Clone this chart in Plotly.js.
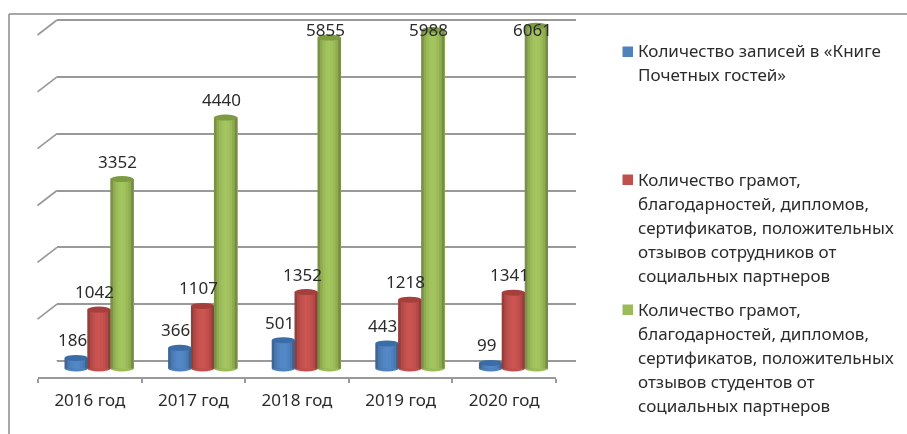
<!DOCTYPE html>
<html><head><meta charset="utf-8">
<script src="https://cdn.plot.ly/plotly-3.0.1.min.js"></script>
<style>html,body{margin:0;padding:0;background:#fff}#chart{filter:blur(0.35px)}</style>
</head><body><div id="chart" style="width:907px;height:434px"></div>
<script>
const categories = ['2016 год','2017 год','2018 год','2019 год','2020 год'];
const guests = [186,366,501,443,99];
const partnersStaff = [1042,1107,1352,1218,1341];
const partnersStudents = [3352,4440,5855,5988,6061];
const seriesNames = [
 'Количество записей в «Книге Почетных гостей»',
 'Количество грамот, благодарностей, дипломов, сертификатов, положительных отзывов сотрудников от социальных партнеров',
 'Количество грамот, благодарностей, дипломов, сертификатов, положительных отзывов студентов от социальных партнеров'];
const legendLines = [
 ['Количество записей в «Книге','Почетных гостей»'],
 ['Количество грамот,','благодарностей, дипломов,','сертификатов, положительных','отзывов сотрудников от','социальных партнеров'],
 ['Количество грамот,','благодарностей, дипломов,','сертификатов, положительных','отзывов студентов от','социальных партнеров']];
const baseColors = [[79,129,189],[192,80,77],[155,187,89]];
const capColors = ['#3a6ca8','#a53f3c','#7d9b41'];
const legendColors = ['#4f81bd','#c0504d','#9bbb59'];
const legendFirstY = [51,179,309];
const shades = [0.78,0.92,1.0,1.04,1.06,1.04,1.0,0.92,0.76];

const W=907,H=434, px=x=>x/W, py=y=>1-y/H;
const FONT='"Noto Sans", sans-serif', INK='#2b2b2b', LINE='#999999';
const all=[guests,partnersStaff,partnersStudents];
const unitsPerPx=1/0.05653, pxPerCat=103.6;
const leftOff=[-25.3/pxPerCat,-2.5/pxPerCat,20.5/pxPerCat], barW=23.3/pxPerCat;
const ry=3*unitsPerPx;
const y2Top=15,y2Bot=377,zero=368.5;
const traces=[{type:'scatter',mode:'none',x:[0],y:[0],xaxis:'x',yaxis:'y',showlegend:false,hoverinfo:'skip'}];
const shapes=[],annotations=[];
all.forEach((vals,s)=>{
  const dw=barW/shades.length;
  shades.forEach((f,k)=>{
    const c=baseColors[s].map(v=>Math.min(255,Math.round(v*f)));
    traces.push({type:'bar',name:seriesNames[s],x:categories,y:vals,xaxis:'x2',yaxis:'y2',
      offset:leftOff[s]+k*dw,width:barW-k*dw,marker:{color:`rgb(${c})`,line:{width:0}},hoverinfo:'skip',showlegend:false});
  });
  vals.forEach((v,i)=>{
    const x0=i+leftOff[s],x1=x0+barW;
    shapes.push({type:'circle',xref:'x2',yref:'y2',x0,x1,y0:-ry,y1:ry,layer:'between',line:{width:0},fillcolor:legendColors[s]});
    shapes.push({type:'circle',xref:'x2',yref:'y2',x0,x1,y0:v-ry,y1:v+ry,layer:'above',line:{width:0},fillcolor:capColors[s]});
    annotations.push({xref:'x2',yref:'y2',x:(x0+x1)/2,y:Math.min(v,5670),yshift:18,xshift:-4,text:String(v),showarrow:false,
      xanchor:'center',yanchor:'middle',font:{family:FONT,size:17,color:INK}});
  });
  legendLines[s].forEach((t,l)=>{
    annotations.push({xref:'paper',yref:'paper',x:px(636),y:py(legendFirstY[s]+l*24),text:t,showarrow:false,xanchor:'left',yanchor:'middle',
      font:{family:FONT,size:17,color:INK}});
  });
  const ly=legendFirstY[s]+1;
  shapes.push({type:'rect',xref:'paper',yref:'paper',x0:px(622.5),x1:px(633),y0:py(ly-5.5),y1:py(ly+5),line:{width:0},fillcolor:legendColors[s]});
});
// slanted wall/floor edges
const wallSlope=15/(341/6000);
[0,1000,2000,3000,4000,5000,6000].forEach(v=>{
  shapes.push({type:'line',xref:'paper',yref:'y',x0:px(37.5),x1:px(57),y0:v-wallSlope,y1:v,layer:'below',line:{color:LINE,width:1.7}});
});
shapes.push({type:'line',xref:'paper',yref:'y',x0:px(556),x1:px(576),y0:-wallSlope,y1:0,layer:'below',line:{color:LINE,width:1.7}});
// outer frame
shapes.push({type:'line',xref:'paper',yref:'paper',x0:px(9),x1:1,y0:py(14),y1:py(14),line:{color:'#8a8a8a',width:1.5}});
shapes.push({type:'line',xref:'paper',yref:'paper',x0:px(9),x1:px(9),y0:py(14),y1:0,line:{color:'#8a8a8a',width:1.5}});

const layout={width:W,height:H,margin:{l:0,r:0,t:0,b:0},paper_bgcolor:'#fff',plot_bgcolor:'rgba(0,0,0,0)',
  barmode:'overlay',showlegend:false,shapes,annotations,hovermode:false,
  xaxis:{domain:[px(57),px(576)],range:[0,1],showgrid:false,showticklabels:false,ticks:'',zeroline:false,anchor:'y'},
  yaxis:{domain:[py(361),py(15)],range:[0,6000*346/341],dtick:1000,showgrid:true,gridcolor:LINE,gridwidth:2,zeroline:true,zerolinecolor:LINE,zerolinewidth:2,
    showticklabels:false,ticks:'',anchor:'x'},
  xaxis2:{domain:[px(38),px(556)],type:'category',categoryorder:'array',categoryarray:categories,range:[-0.5,4.5],anchor:'y2',showline:true,linecolor:LINE,linewidth:2,
    ticks:'outside',tickson:'boundaries',ticklen:4,tickcolor:LINE,tickwidth:2,showgrid:false,zeroline:false,
    tickfont:{family:FONT,size:17,color:INK},ticklabelstandoff:7},
  yaxis2:{domain:[py(y2Bot),py(y2Top)],range:[(zero-y2Bot)*unitsPerPx,(zero-y2Top)*unitsPerPx],showgrid:false,zeroline:false,showticklabels:false,ticks:'',showline:false,anchor:'x2'}
};
Plotly.newPlot('chart',traces,layout,{staticPlot:true,displayModeBar:false});
</script></body></html>
